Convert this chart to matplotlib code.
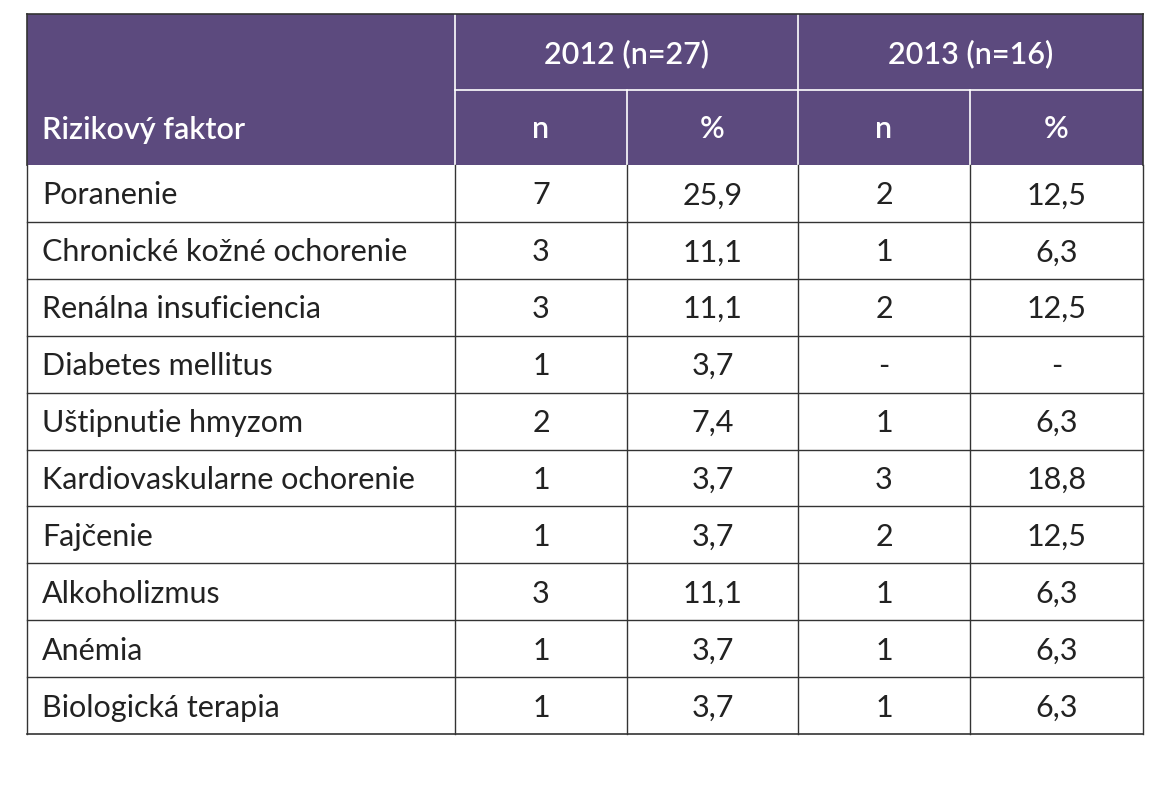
import matplotlib.pyplot as plt
from matplotlib.patches import Rectangle

# table data
factors = ["Poranenie", "Chronické kožné ochorenie", "Renálna insuficiencia",
           "Diabetes mellitus", "Uštipnutie hmyzom", "Kardiovaskularne ochorenie",
           "Fajčenie", "Alkoholizmus", "Anémia", "Biologická terapia"]
n_2012 = ["7", "3", "3", "1", "2", "1", "1", "3", "1", "1"]
pct_2012 = ["25,9", "11,1", "11,1", "3,7", "7,4", "3,7", "3,7", "11,1", "3,7", "3,7"]
n_2013 = ["2", "1", "2", "-", "1", "3", "2", "1", "1", "1"]
pct_2013 = ["12,5", "6,3", "12,5", "-", "6,3", "18,8", "12,5", "6,3", "6,3", "6,3"]
years = ["2012 (n=27)", "2013 (n=16)"]
subhead = ["Rizikový faktor", "n", "%", "n", "%"]

purple = "#5c4a7e"
cols = [27, 455, 627, 798, 970, 1143]
top, h1, h2 = 14, 90, 165
row_h = 56.9

plt.rcParams['font.family'] = ['Lato', 'DejaVu Sans']
fig = plt.figure(figsize=(11.75, 8.0), dpi=100)
ax = fig.add_axes([0, 0, 1, 1])
ax.set_xlim(0, 1175)
ax.set_ylim(800, 0)
ax.axis('off')

# header background
ax.add_patch(Rectangle((cols[0], top), cols[-1] - cols[0], h2 - top, color=purple, lw=0))
# header lines (white)
ax.plot([cols[1], cols[-1]], [h1, h1], color="white", lw=1.2)
for x in [cols[1], cols[3]]:
    ax.plot([x, x], [top, h2], color="white", lw=1.2)
for x in [cols[2], cols[4]]:
    ax.plot([x, x], [h1, h2], color="white", lw=1.2)

fs = 22
for i, y in enumerate(years):
    ax.text((cols[1 + 2 * i] + cols[3 + 2 * i]) / 2, (top + h1) / 2 + 2, y, color="white",
            fontsize=fs, fontweight="semibold", ha="center", va="center")
for j, s in enumerate(subhead):
    if j == 0:
        ax.text(cols[0] + 15, (h1 + h2) / 2 + 2, s, color="white", fontsize=fs,
                fontweight="semibold", ha="left", va="center")
    else:
        ax.text((cols[j] + cols[j + 1]) / 2, (h1 + h2) / 2 + 2, s, color="white",
                fontsize=fs, fontweight="semibold", ha="center", va="center")

# body
nrows = len(factors)
bottom = h2 + nrows * row_h
for r in range(nrows):
    yc = h2 + (r + 0.5) * row_h + 2
    ax.text(cols[0] + 15, yc, factors[r], fontsize=fs, ha="left", va="center", color="#222222")
    for j, v in enumerate([n_2012[r], pct_2012[r], n_2013[r], pct_2013[r]]):
        ax.text((cols[j + 1] + cols[j + 2]) / 2, yc, v, fontsize=fs, ha="center",
                va="center", color="#222222")
    if r > 0:
        ax.plot([cols[0], cols[-1]], [h2 + r * row_h] * 2, color="#333333", lw=1)
for x in cols:
    ax.plot([x, x], [h2, bottom], color="#333333", lw=1)
ax.plot([cols[0], cols[-1]], [bottom, bottom], color="#333333", lw=1.2)
ax.plot([cols[0], cols[-1]], [top, top], color="#333333", lw=1.2)
ax.plot([cols[0], cols[0]], [top, h2], color="#333333", lw=1.2)
ax.plot([cols[-1], cols[-1]], [top, h2], color="#333333", lw=1.2)

fig.savefig("out.png", dpi=100)
